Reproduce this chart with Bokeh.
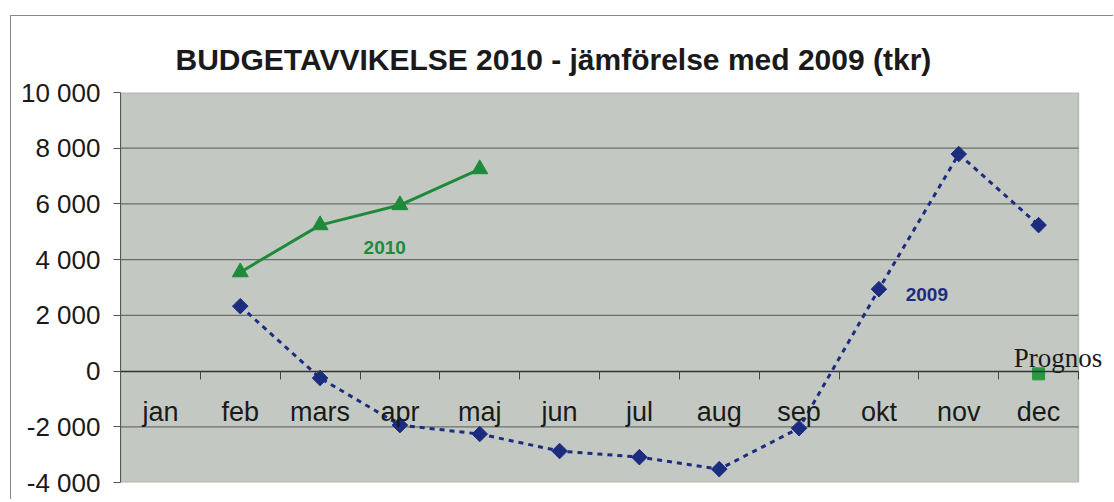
import math
from bokeh.plotting import figure
from bokeh.models import Range1d, FixedTicker, Label, ColumnDataSource, BoxAnnotation
from bokeh.embed import file_html
from bokeh.resources import INLINE

months = ["jan", "feb", "mars", "apr", "maj", "jun", "jul", "aug", "sep", "okt", "nov", "dec"]
x_idx = list(range(1, 13))

# 2009 outcome (tkr), feb..dec
v2009_months = ["feb", "mars", "apr", "maj", "jun", "jul", "aug", "sep", "okt", "nov", "dec"]
v2009 = [2330, -250, -1940, -2260, -2870, -3090, -3520, -2050, 2940, 7790, 5240]

# 2010 outcome (tkr), feb..maj
v2010_months = ["feb", "mars", "apr", "maj"]
v2010 = [3550, 5240, 5960, 7250]

# forecast
prognos_months = ["dec"]
prognos = [-100]

y_ticks = [-4000, -2000, 0, 2000, 4000, 6000, 8000, 10000]

pos = {m: i + 1 for i, m in enumerate(months)}

def fmt(v):
    s = f"{abs(v):,}".replace(",", " ")
    return ("-" if v < 0 else "") + s

# layout (pixels)
W, H = 1103, 484
left_b, top_b, bottom_b = 109, 76, 18
plot_w = 958                      # width of the grey plot area
frame_w = W - left_b              # frame extends to the right edge (room for "Prognos")
x_lo, x_hi = 0.5, len(months) + 0.5
x_end = x_lo + (x_hi - x_lo) * frame_w / plot_w
y_lo, y_hi = y_ticks[0], y_ticks[-1]

p = figure(width=W, height=H, output_backend="svg", toolbar_location=None,
           x_range=Range1d(x_lo, x_end), y_range=Range1d(y_lo, y_hi),
           min_border_left=left_b, min_border_right=0, min_border_top=top_b, min_border_bottom=bottom_b)

p.background_fill_color = "white"
p.border_fill_color = "white"
p.outline_line_color = None
p.styles = {"border-top": "1px solid #888888", "border-left": "1px solid #888888",
            "margin-left": "10px", "margin-top": "15px"}

# grey plot area with its frame
p.add_layout(BoxAnnotation(left=x_lo, right=x_hi, fill_color="#c3c9c2", fill_alpha=1.0,
                           line_color="#555555", line_width=1.5, level="underlay"))

p.title.text = "BUDGETAVVIKELSE 2010 - jämförelse med 2009 (tkr)"
p.title.text_font = "Liberation Sans"
p.title.text_font_style = "bold"
p.title.text_font_size = "30px"
p.title.text_color = "#1a1a1a"
p.title.align = "left"
p.title.offset = 55
p.title.standoff = 33

# y axis
yax = p.yaxis[0]
yax.ticker = FixedTicker(ticks=y_ticks)
yax.major_label_overrides = {t: fmt(t) for t in y_ticks}
yax.major_label_text_font = "Liberation Sans"
yax.major_label_text_font_size = "26px"
yax.major_label_text_color = "#1a1a1a"
yax.major_tick_out = 7
yax.major_tick_in = 0
yax.minor_tick_out = 0
yax.minor_tick_in = 0
yax.major_tick_line_color = "#555555"
yax.axis_line_color = "#555555"
yax.major_label_standoff = 13

# x axis crossing at zero
xax = p.xaxis[0]
xax.fixed_location = 0
xax.bounds = (x_lo, x_hi)
xax.ticker = FixedTicker(ticks=x_idx, minor_ticks=[i + 0.5 for i in range(0, 13)])
xax.major_label_overrides = {i + 1: m for i, m in enumerate(months)}
xax.major_label_text_font = "Liberation Sans"
xax.major_label_text_font_size = "27px"
xax.major_label_text_color = "#1a1a1a"
xax.major_tick_out = 0
xax.major_tick_in = 0
xax.minor_tick_out = 8
xax.minor_tick_in = 0
xax.minor_tick_line_color = "#444444"
xax.axis_line_color = "#333333"
xax.axis_line_width = 1.5
xax.major_label_standoff = 18

p.xgrid.grid_line_color = None
p.ygrid.grid_line_color = None

# horizontal gridlines limited to the grey area
grid_y = [t for t in y_ticks if t not in (0, y_lo, y_hi)]
p.segment(x0=[x_lo] * len(grid_y), x1=[x_hi] * len(grid_y), y0=grid_y, y1=grid_y,
          line_color="#6a6e69", line_width=1.2)

s09 = ColumnDataSource(dict(x=[pos[m] for m in v2009_months], y=v2009))
s10 = ColumnDataSource(dict(x=[pos[m] for m in v2010_months], y=v2010))
spr = ColumnDataSource(dict(x=[pos[m] for m in prognos_months], y=prognos))

navy = "#1c2c80"
green = "#1f8a3a"

p.line("x", "y", source=s09, line_color=navy, line_width=3, line_dash="5 5")
p.scatter("x", "y", source=s09, marker="square", angle=math.pi / 4, size=11,
          fill_color=navy, line_color=navy)

p.line("x", "y", source=s10, line_color=green, line_width=3)
p.scatter("x", "y", source=s10, marker="triangle", size=16, fill_color=green, line_color=green)

p.scatter("x", "y", source=spr, marker="square", size=12, fill_color="#2a9a3e", line_color="#2a9a3e")

p.add_layout(Label(x=3.81, y=4420, text="2010", text_font="Liberation Sans", text_font_style="bold",
                   text_font_size="19px", text_color=green, text_align="center", text_baseline="middle"))
p.add_layout(Label(x=10.6, y=2765, text="2009", text_font="Liberation Sans", text_font_style="bold",
                   text_font_size="19px", text_color=navy, text_align="center", text_baseline="middle"))
p.add_layout(Label(x=11.69, y=467, text="Prognos",
                   text_font="Liberation Serif", text_font_size="27px", text_color="#1a1a1a",
                   text_align="left", text_baseline="alphabetic"))

open("out.html", "w").write(file_html(p, INLINE))
